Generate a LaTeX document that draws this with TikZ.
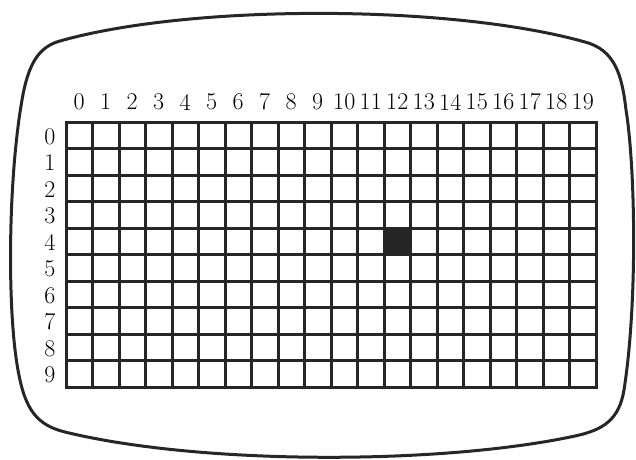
\documentclass[tikz,border=0pt]{standalone}
\usepackage{fontspec}
\begin{document}
\begin{tikzpicture}[x=1pt, y=-1pt,
    gridline/.style={line width=3pt, black!85, line cap=rect},
    screenline/.style={line width=3pt, black!85},
    digit/.style={font=\fontsize{24}{28}\selectfont, inner sep=0pt}
]
    \useasboundingbox (0,0) rectangle (636,459);
    % Screen outline
    \draw[screenline] (60,41) .. controls (190,4) and (450,4) .. (585,42)
        .. controls (615,50) and (622,75) .. (626,110)
        .. controls (635,165) and (638,300) .. (624,390)
        .. controls (619,420) and (603,430) .. (575,436)
        .. controls (440,465) and (200,465) .. (65,432)
        .. controls (37,425) and (25,410) .. (18,370)
        .. controls (7,310) and (8,180) .. (22,100)
        .. controls (28,65) and (38,47) .. cycle;
    % Lit cell (column 12, row 4)
    \fill[black!85] (384,228) rectangle ++(26.5,26.5);
    % Grid
    \foreach \i in {0,...,20}
        \draw[gridline] (66+26.5*\i,122) -- (66+26.5*\i,387);
    \foreach \j in {0,...,10}
        \draw[gridline] (66,122+26.5*\j) -- (596,122+26.5*\j);
    % Column and row numbers
    \foreach \c in {0,...,19}
        \node[digit] (col\c) at (79.25+26.5*\c,102) {\c};
    \foreach \r in {0,...,9}
        \node[digit] (row\r) at (50,136.5+26.5*\r) {\r};
\end{tikzpicture}
\end{document}
